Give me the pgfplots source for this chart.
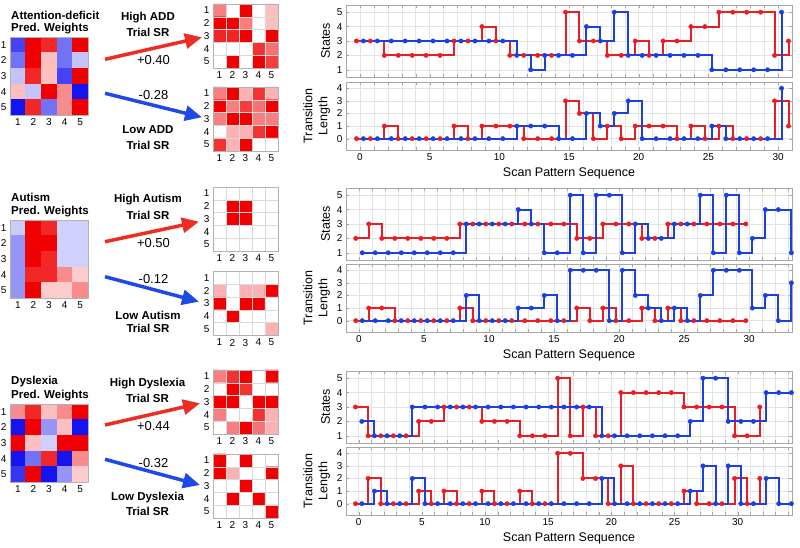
\documentclass[border=0pt]{standalone}
\usepackage{fontspec}
\setmainfont{Liberation Sans}
\usepackage{pgfplots}
\usepackage{pgfplotstable}
\pgfplotsset{compat=1.18}
\usetikzlibrary{arrows.meta}
\definecolor{lred}{RGB}{232,30,36}
\definecolor{lblue}{RGB}{28,64,222}
\definecolor{ared}{RGB}{236,45,35}
\definecolor{ablue}{RGB}{30,72,232}
\newcommand\tfont{\fontsize{11.5}{13}\selectfont\bfseries}
\newcommand\vfont{\fontsize{13}{15}\selectfont}

\pgfplotsset{
 colormap={bwr}{rgb255=(20,20,240) rgb255=(255,255,255) rgb255=(240,0,0)},
 colormap={wr}{rgb255=(255,255,255) rgb255=(240,0,0)},
 hmbase/.style={scale only axis, xmin=0.5, xmax=5.5, ymin=0.5, ymax=5.5, y dir=reverse,
   xtick={1,...,5}, ytick={1,...,5}, major tick length=0pt,
   axis line style={gray!60}, axis on top,
   ticklabel style={font=\fontsize{10}{12}\selectfont},
   /pgf/number format/assume math mode=true},
 pw/.style={hmbase, width=78pt, height=78pt, colormap name=bwr, point meta min=-1, point meta max=1},
 sr/.style={hmbase, width=65pt, height=64pt, colormap name=wr, point meta min=0, point meta max=1,
   minor xtick={1.5,2.5,3.5,4.5}, minor ytick={1.5,2.5,3.5,4.5}, minor tick length=0pt,
   grid=minor, minor grid style={gray!30}},
 stp/.style={scale only axis, width=446pt, xmin=-1,
   axis line style={gray!70}, tick style={gray!70},
   xtick={0,5,...,30}, minor xtick={-1,0,...,34},
   grid=both, major grid style={gray!22}, minor grid style={gray!22},
   major tick length=3pt, minor tick length=3pt,
   ticklabel style={font=\fontsize{10}{12}\selectfont},
   label style={font=\fontsize{12.5}{15}\selectfont},
   /pgf/number format/assume math mode=true, clip=false},
 st/.style={stp, height=72pt, ymin=0.5, ymax=5.5, ytick={1,...,5}, xticklabels={}, ylabel={States}},
 tl/.style={stp, height=68pt, ymin=-0.9, ymax=4.5, ytick={0,...,4},
   ylabel={Transition\\Length}, ylabel style={align=center}, xlabel={Scan Pattern Sequence}},
 rl/.style={const plot, draw=lred, line width=2pt, mark=*, mark size=2.2pt, mark options={solid, draw=lred, fill=lred, line width=0.4pt}},
 bl/.style={const plot, draw=lblue, line width=2pt, mark=*, mark size=2.2pt, mark options={solid, draw=lblue, fill=lblue, line width=0.4pt}},
}

\pgfplotstableread{
x s t
-0.25 3 0
0.75 3 0
1.75 2 1
2.75 2 0
3.75 2 0
4.75 2 0
5.75 2 0
6.75 3 1
7.75 3 0
8.75 4 1
9.75 3 1
10.75 2 1
11.75 2 0
12.75 2 0
13.75 2 0
14.75 5 3
15.75 3 2
16.75 3 0
17.75 2 1
18.75 2 0
19.75 3 1
20.75 2 1
21.75 3 1
22.75 3 0
23.75 4 1
24.75 4 0
25.75 5 1
26.75 5 0
27.75 5 0
28.75 5 0
29.75 2 3
30.75 3 1
}\addR

\pgfplotstableread{
x s t
0.25 3 0
1.25 3 0
2.25 3 0
3.25 3 0
4.25 3 0
5.25 3 0
6.25 3 0
7.25 3 0
8.25 3 0
9.25 3 0
10.25 3 0
11.25 2 1
12.25 1 1
13.25 2 1
14.25 2 0
15.25 2 0
16.25 4 2
17.25 3 1
18.25 5 2
19.25 2 3
20.25 2 0
21.25 2 0
22.25 2 0
23.25 2 0
24.25 2 0
25.25 1 1
26.25 1 0
27.25 1 0
28.25 1 0
29.25 1 0
30.25 5 4
}\addB

\pgfplotstableread{
x s t
-0.25 2 0
0.75 3 1
1.75 2 1
2.75 2 0
3.75 2 0
4.75 2 0
5.75 2 0
6.75 2 0
7.75 3 1
8.75 3 0
9.75 3 0
10.75 3 0
11.75 3 0
12.75 3 0
13.75 3 0
14.75 3 0
15.75 3 0
16.75 2 1
17.75 2 0
18.75 3 1
19.75 3 0
20.75 3 0
21.75 2 1
22.75 2 0
23.75 3 1
24.75 3 0
25.75 3 0
26.75 3 0
27.75 3 0
28.75 3 0
29.75 3 0
}\autR

\pgfplotstableread{
x s t
0.25 1 0
1.25 1 0
2.25 1 0
3.25 1 0
4.25 1 0
5.25 1 0
6.25 1 0
7.25 1 0
8.25 3 2
9.25 3 0
10.25 3 0
11.25 3 0
12.25 4 1
13.25 3 1
14.25 1 2
15.25 1 0
16.25 5 4
17.25 1 4
18.25 5 4
19.25 5 0
20.25 1 4
21.25 3 2
22.25 2 1
23.25 2 0
24.25 3 1
25.25 3 0
26.25 5 2
27.25 1 4
28.25 5 4
29.25 1 4
30.25 2 1
31.25 4 2
32.25 4 0
33.25 1 3
}\autB

\pgfplotstableread{
x s t
-0.25 3 0
0.75 1 2
1.75 1 0
2.75 1 0
3.75 1 0
4.75 2 1
5.75 2 0
6.75 3 1
7.75 3 0
8.75 3 0
9.75 2 1
10.75 2 0
11.75 2 0
12.75 1 1
13.75 1 0
14.75 1 0
15.75 5 4
16.75 1 4
17.75 3 2
18.75 1 2
19.75 1 0
20.75 4 3
21.75 4 0
22.75 4 0
23.75 4 0
24.75 4 0
25.75 3 1
26.75 3 0
27.75 3 0
28.75 3 0
29.75 1 2
30.75 1 0
31.75 3 2
}\dysR

\pgfplotstableread{
x s t
0.25 2 0
1.25 1 1
2.25 1 0
3.25 1 0
4.25 3 2
5.25 3 0
6.25 3 0
7.25 3 0
8.25 3 0
9.25 3 0
10.25 3 0
11.25 3 0
12.25 3 0
13.25 3 0
14.25 3 0
15.25 3 0
16.25 3 0
17.25 3 0
18.25 3 0
19.25 1 2
20.25 1 0
21.25 1 0
22.25 1 0
23.25 1 0
24.25 1 0
25.25 1 0
26.25 2 1
27.25 5 3
28.25 5 0
29.25 2 3
30.25 2 0
31.25 2 0
32.25 4 2
33.25 4 0
34.25 4 0
}\dysB

\begin{document}
\begin{tikzpicture}
\path[use as bounding box] (0,0) rectangle (800pt,548pt);

% ---------- ADD ----------
\node[anchor=west, font=\tfont, inner sep=0pt] at (11pt,533pt) {Attention-deficit};
\node[anchor=west, font=\tfont, inner sep=0pt] at (11pt,519pt) {Pred. Weights};
\begin{axis}[pw, at={(10pt,433pt)}, anchor=south west]
\addplot[matrix plot*, mesh/cols=5, point meta=explicit] coordinates {
(1,1)[-0.8] (2,1)[1] (3,1)[0.85] (4,1)[-0.6] (5,1)[1]
(1,2)[-0.6] (2,2)[1] (3,2)[0.25] (4,2)[-0.6] (5,2)[-0.25]
(1,3)[-0.25] (2,3)[0.85] (3,3)[0.25] (4,3)[-0.8] (5,3)[1]
(1,4)[0.25] (2,4)[-0.25] (3,4)[1] (4,4)[0.45] (5,4)[-1]
(1,5)[-1] (2,5)[0.85] (3,5)[-0.6] (4,5)[0.45] (5,5)[1]
};
\end{axis}
\node[font=\tfont, inner sep=0pt] at (148pt,530.7pt) {High ADD};
\node[font=\tfont, inner sep=0pt] at (148pt,515.7pt) {Trial SR};
\node[font=\vfont, inner sep=0pt] at (153.5pt,488pt) {+0.40};
\node[font=\vfont, inner sep=0pt] at (153.5pt,453pt) {-0.28};
\node[font=\tfont, inner sep=0pt] at (148pt,418pt) {Low ADD};
\node[font=\tfont, inner sep=0pt] at (148pt,402.3pt) {Trial SR};
\draw[ared, line width=3.5pt, -{Triangle[length=17pt,width=15pt]}] (105pt,488.7pt) -- (202pt,510.7pt);
\draw[ablue, line width=3.5pt, -{Triangle[length=17pt,width=15pt]}] (105pt,454.7pt) -- (202pt,430.7pt);
\begin{axis}[sr, at={(213pt,480pt)}, anchor=south west]
\addplot[matrix plot*, mesh/cols=5, point meta=explicit] coordinates {
(1,1)[0.5] (2,1)[0] (3,1)[1] (4,1)[0] (5,1)[0.25]
(1,2)[1] (2,2)[1] (3,2)[0.5] (4,2)[0] (5,2)[0.25]
(1,3)[0.85] (2,3)[0.85] (3,3)[1] (4,3)[0] (5,3)[1]
(1,4)[0] (2,4)[0] (3,4)[0] (4,4)[0.8] (5,4)[0.55]
(1,5)[0] (2,5)[1] (3,5)[0] (4,5)[1] (5,5)[0.75]
};
\end{axis}
\begin{axis}[sr, at={(213pt,397pt)}, anchor=south west]
\addplot[matrix plot*, mesh/cols=5, point meta=explicit] coordinates {
(1,1)[0.5] (2,1)[1] (3,1)[0.3] (4,1)[0.8] (5,1)[0.3]
(1,2)[1] (2,2)[0.5] (3,2)[0.75] (4,2)[0.55] (5,2)[1]
(1,3)[0.5] (2,3)[1] (3,3)[1] (4,3)[0.5] (5,3)[0.5]
(1,4)[0] (2,4)[0.3] (3,4)[0.3] (4,4)[0.8] (5,4)[1]
(1,5)[0.8] (2,5)[0.3] (3,5)[1] (4,5)[0] (5,5)[0]
};
\end{axis}
\begin{axis}[st, at={(346pt,471pt)}, anchor=south west, xmax=31]
\addplot[rl] table[x=x,y=s] {\addR};
\addplot[bl] table[x=x,y=s] {\addB};
\end{axis}
\begin{axis}[tl, at={(346pt,398pt)}, anchor=south west, xmax=31]
\addplot[rl] table[x=x,y=t] {\addR};
\addplot[bl] table[x=x,y=t] {\addB};
\end{axis}

% ---------- Autism ----------
\node[anchor=west, font=\tfont, inner sep=0pt] at (11pt,351pt) {Autism};
\node[anchor=west, font=\tfont, inner sep=0pt] at (11pt,336pt) {Pred. Weights};
\begin{axis}[pw, at={(10pt,250pt)}, anchor=south west]
\addplot[matrix plot*, mesh/cols=5, point meta=explicit] coordinates {
(1,1)[-0.22] (2,1)[1] (3,1)[0.85] (4,1)[-0.2] (5,1)[-0.2]
(1,2)[-0.45] (2,2)[1] (3,2)[1] (4,2)[-0.2] (5,2)[-0.2]
(1,3)[-0.45] (2,3)[1] (3,3)[0.85] (4,3)[-0.2] (5,3)[-0.2]
(1,4)[-0.45] (2,4)[0.85] (3,4)[0.85] (4,4)[0.45] (5,4)[0.2]
(1,5)[-0.45] (2,5)[1] (3,5)[0.2] (4,5)[0.2] (5,5)[0.45]
};
\end{axis}
\node[font=\tfont, inner sep=0pt] at (148pt,348pt) {High Autism};
\node[font=\tfont, inner sep=0pt] at (148pt,333pt) {Trial SR};
\node[font=\vfont, inner sep=0pt] at (153.5pt,305pt) {+0.50};
\node[font=\vfont, inner sep=0pt] at (153.5pt,269pt) {-0.12};
\node[font=\tfont, inner sep=0pt] at (148pt,233pt) {Low Autism};
\node[font=\tfont, inner sep=0pt] at (148pt,219.7pt) {Trial SR};
\draw[ared, line width=3.5pt, -{Triangle[length=17pt,width=15pt]}] (105pt,306.3pt) -- (199pt,326.3pt);
\draw[ablue, line width=3.5pt, -{Triangle[length=17pt,width=15pt]}] (105pt,271.3pt) -- (199pt,246.3pt);
\begin{axis}[sr, at={(213pt,297pt)}, anchor=south west]
\addplot[matrix plot*, mesh/cols=5, point meta=explicit] coordinates {
(1,1)[0] (2,1)[0] (3,1)[0] (4,1)[0] (5,1)[0]
(1,2)[0] (2,2)[1] (3,2)[1] (4,2)[0] (5,2)[0]
(1,3)[0] (2,3)[1] (3,3)[1] (4,3)[0] (5,3)[0]
(1,4)[0] (2,4)[0] (3,4)[0] (4,4)[0] (5,4)[0]
(1,5)[0] (2,5)[0] (3,5)[0] (4,5)[0] (5,5)[0]
};
\end{axis}
\begin{axis}[sr, at={(213pt,212.5pt)}, anchor=south west]
\addplot[matrix plot*, mesh/cols=5, point meta=explicit] coordinates {
(1,1)[0] (2,1)[0] (3,1)[0] (4,1)[0] (5,1)[0]
(1,2)[0.3] (2,2)[0] (3,2)[0.3] (4,2)[0.3] (5,2)[1]
(1,3)[1] (2,3)[0] (3,3)[1] (4,3)[1] (5,3)[0]
(1,4)[0] (2,4)[1] (3,4)[0] (4,4)[0] (5,4)[0]
(1,5)[0] (2,5)[0] (3,5)[0] (4,5)[0] (5,5)[0.3]
};
\end{axis}
\begin{axis}[st, at={(346pt,288pt)}, anchor=south west, xmax=33.3]
\addplot[rl] table[x=x,y=s] {\autR};
\addplot[bl] table[x=x,y=s] {\autB};
\end{axis}
\begin{axis}[tl, at={(346pt,216pt)}, anchor=south west, xmax=33.3]
\addplot[rl] table[x=x,y=t] {\autR};
\addplot[bl] table[x=x,y=t] {\autB};
\end{axis}

% ---------- Dyslexia ----------
\node[anchor=west, font=\tfont, inner sep=0pt] at (11pt,166.3pt) {Dyslexia};
\node[anchor=west, font=\tfont, inner sep=0pt] at (11pt,152.3pt) {Pred. Weights};
\begin{axis}[pw, at={(10pt,66pt)}, anchor=south west]
\addplot[matrix plot*, mesh/cols=5, point meta=explicit] coordinates {
(1,1)[0.45] (2,1)[0.85] (3,1)[0.25] (4,1)[0.45] (5,1)[1]
(1,2)[-1] (2,2)[1] (3,2)[-0.45] (4,2)[0.25] (5,2)[-1]
(1,3)[1] (2,3)[0.25] (3,3)[-0.2] (4,3)[1] (5,3)[1]
(1,4)[-1] (2,4)[-0.6] (3,4)[0.85] (4,4)[-1] (5,4)[0.45]
(1,5)[-0.85] (2,5)[1] (3,5)[-1] (4,5)[-0.45] (5,5)[0.2]
};
\end{axis}
\node[font=\tfont, inner sep=0pt] at (147.5pt,164pt) {High Dyslexia};
\node[font=\tfont, inner sep=0pt] at (147.5pt,149.7pt) {Trial SR};
\node[font=\vfont, inner sep=0pt] at (153.5pt,122pt) {+0.44};
\node[font=\vfont, inner sep=0pt] at (153.5pt,84.7pt) {-0.32};
\node[font=\tfont, inner sep=0pt] at (147.5pt,50.7pt) {Low Dyslexia};
\node[font=\tfont, inner sep=0pt] at (147.5pt,36.3pt) {Trial SR};
\draw[ared, line width=3.5pt, -{Triangle[length=17pt,width=15pt]}] (105pt,123pt) -- (200pt,144.7pt);
\draw[ablue, line width=3.5pt, -{Triangle[length=17pt,width=15pt]}] (105pt,88.7pt) -- (200pt,63pt);
\begin{axis}[sr, at={(213pt,114pt)}, anchor=south west]
\addplot[matrix plot*, mesh/cols=5, point meta=explicit] coordinates {
(1,1)[0.5] (2,1)[0.8] (3,1)[1] (4,1)[0] (5,1)[1]
(1,2)[0] (2,2)[1] (3,2)[0.8] (4,2)[0] (5,2)[0]
(1,3)[1] (2,3)[1] (3,3)[0] (4,3)[1] (5,3)[1]
(1,4)[0.5] (2,4)[0] (3,4)[0] (4,4)[0.8] (5,4)[0.3]
(1,5)[0] (2,5)[0.5] (3,5)[1] (4,5)[0.55] (5,5)[0.3]
};
\end{axis}
\begin{axis}[sr, at={(213pt,30pt)}, anchor=south west]
\addplot[matrix plot*, mesh/cols=5, point meta=explicit] coordinates {
(1,1)[1] (2,1)[0] (3,1)[1] (4,1)[0] (5,1)[0]
(1,2)[1] (2,2)[0.3] (3,2)[0] (4,2)[0] (5,2)[1]
(1,3)[0] (2,3)[0] (3,3)[1] (4,3)[0] (5,3)[0]
(1,4)[0] (2,4)[1] (3,4)[0] (4,4)[1] (5,4)[0]
(1,5)[0] (2,5)[0] (3,5)[0] (4,5)[0] (5,5)[1]
};
\end{axis}
\begin{axis}[st, at={(346pt,105pt)}, anchor=south west, xmax=34.3]
\addplot[rl] table[x=x,y=s] {\dysR};
\addplot[bl] table[x=x,y=s] {\dysB};
\end{axis}
\begin{axis}[tl, at={(346pt,33pt)}, anchor=south west, xmax=34.3]
\addplot[rl] table[x=x,y=t] {\dysR};
\addplot[bl] table[x=x,y=t] {\dysB};
\end{axis}
\end{tikzpicture}
\end{document}
